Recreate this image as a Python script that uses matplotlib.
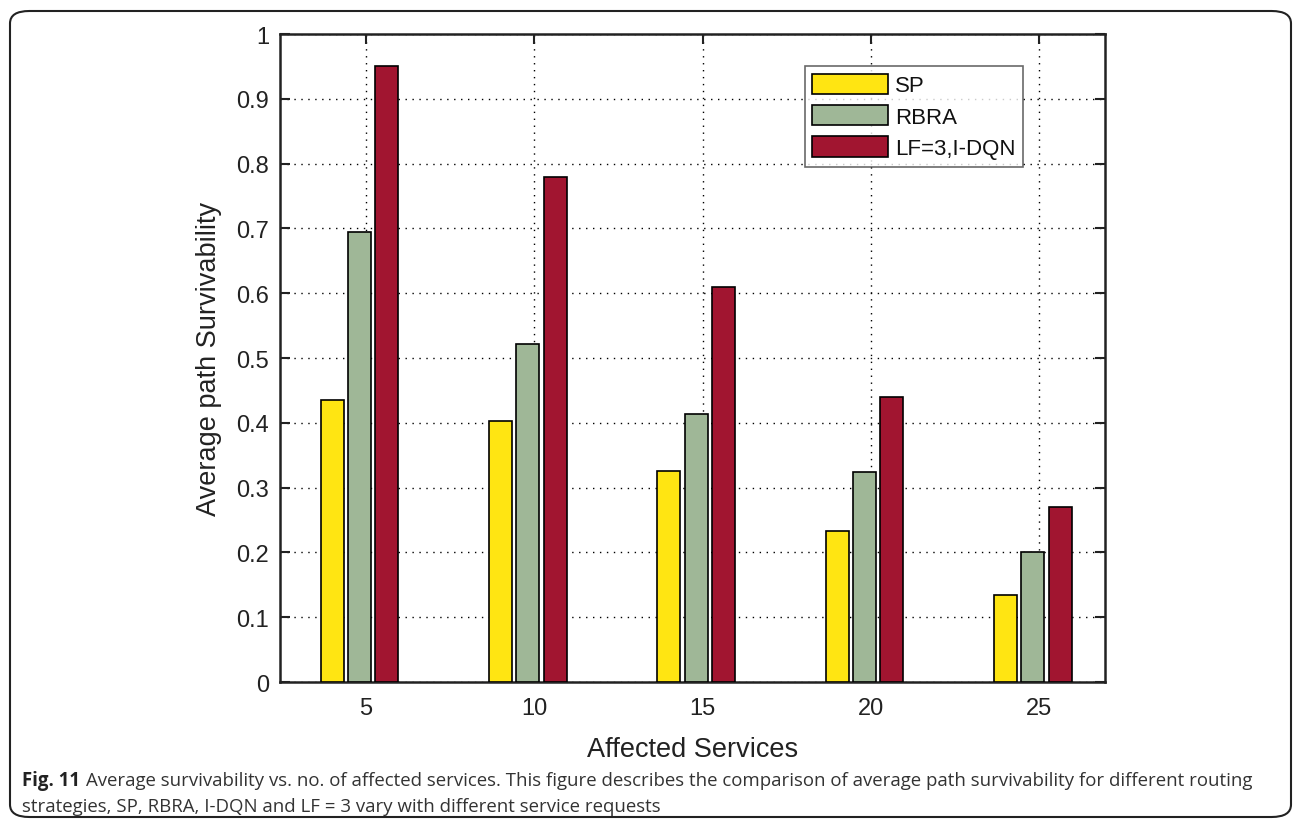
import numpy as np
import matplotlib
matplotlib.use('Agg')
import matplotlib.pyplot as plt
from matplotlib.patches import FancyBboxPatch

# data
services = [5, 10, 15, 20, 25]
sp = [0.435, 0.403, 0.325, 0.233, 0.134]
rbra = [0.695, 0.521, 0.413, 0.324, 0.201]
lf_idqn = [0.950, 0.780, 0.610, 0.440, 0.270]
series_labels = ['SP', 'RBRA', 'LF=3,I-DQN']
colors = ['#FFE512', '#9FB797', '#A11530']
y_ticks = [0, 0.1, 0.2, 0.3, 0.4, 0.5, 0.6, 0.7, 0.8, 0.9, 1.0]
y_ticklabels = ['0', '0.1', '0.2', '0.3', '0.4', '0.5', '0.6', '0.7', '0.8', '0.9', '1']

plt.rcParams['font.family'] = ['Liberation Sans', 'DejaVu Sans']

fig = plt.figure(figsize=(12.93, 8.28), dpi=100)
ax = fig.add_axes([0.2166, 0.1751, 0.8546 - 0.2166, 0.9577 - 0.1751])

x = np.array(services, dtype=float)
width = 0.685
offsets = [-1.0, -0.19, 0.62]
for vals, off, col, lab in zip([sp, rbra, lf_idqn], offsets, colors, series_labels):
    ax.bar(x + off, vals, width, color=col, edgecolor='black', linewidth=1.2,
           label=lab, zorder=3)

ax.set_xlim(2.45, 26.95)
ax.set_ylim(0, 1)
ax.set_xticks(services)
ax.set_xticklabels([str(s) for s in services])
ax.set_yticks(y_ticks)
ax.set_yticklabels(y_ticklabels)
ax.tick_params(axis='both', direction='in', length=7, width=1.5, labelsize=17,
               top=True, right=True, colors='#222222', labelcolor='#222222')
ax.tick_params(axis='x', pad=11)
ax.tick_params(axis='y', pad=8)
ax.grid(True, linestyle=(0, (1, 4)), color='black', linewidth=1.0, zorder=0)
for s in ax.spines.values():
    s.set_linewidth(1.8)
    s.set_color('#222222')

ax.set_xlabel('Affected Services', fontsize=19.5, color='#222222', labelpad=12)
ax.set_ylabel('Average path Survivability', fontsize=19.5, color='#222222', labelpad=10)

leg = ax.legend(loc='upper left', bbox_to_anchor=(0.636, 0.951), fontsize=16,
                frameon=True, fancybox=False, edgecolor='#444444',
                handlelength=3.4, handleheight=1.05, handletextpad=0.3,
                labelspacing=0.38, borderpad=0.35, borderaxespad=0)
leg.get_frame().set_linewidth(1.2)
for t in leg.get_texts():
    t.set_color('#111111')

# caption
cap_font = ['Open Sans', 'DejaVu Sans']
fig.text(22 / 1293, 1 - 781 / 828, 'Fig. 11', fontsize=13.4, fontweight='bold',
         family=cap_font, color='#222222', va='center', ha='left')
fig.text(86 / 1293, 1 - 781 / 828,
         'Average survivability vs. no. of affected services. This figure describes the comparison of average path survivability for different routing',
         fontsize=13.4, family=cap_font, color='#333333', va='center', ha='left')
fig.text(22 / 1293, 1 - 807 / 828,
         'strategies, SP, RBRA, I-DQN and LF = 3 vary with different service requests',
         fontsize=13.4, family=cap_font, color='#333333', va='center', ha='left')

# rounded frame around the figure
frame = FancyBboxPatch((10 / 1293, 10 / 828), 1281 / 1293, 806 / 828,
                       boxstyle='round,pad=0,rounding_size=0.015',
                       transform=fig.transFigure, fill=False,
                       edgecolor='#222222', linewidth=1.5)
fig.patches.append(frame)

fig.savefig('out.png', dpi=100)
